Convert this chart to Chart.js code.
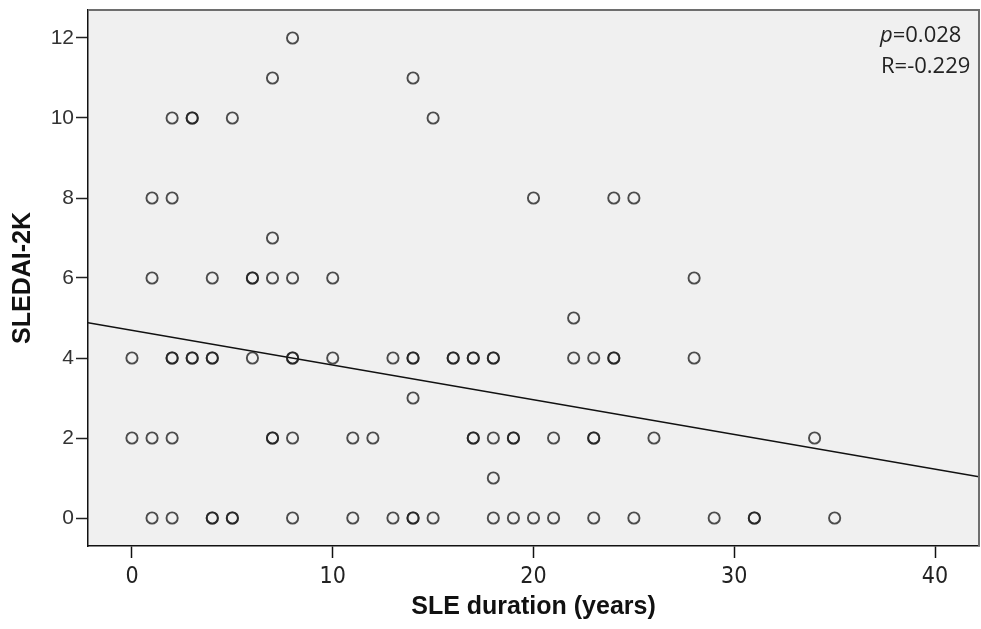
<!DOCTYPE html>
<html>
<head>
<meta charset="utf-8">
<script src="https://cdn.jsdelivr.net/npm/chart.js@4.4.1/dist/chart.umd.min.js"></script>
<style>
  body { margin: 0; background: #fff; }
  canvas { display: block; }
</style>
</head>
<body>
<canvas id="scatter-chart" width="981" height="629"></canvas>
<script>
// SLE duration (years) per patient
const durationYears = [
    8,
    7, 14,
    2, 3, 3, 5, 15,
    1, 2, 20, 24, 25,
    7,
    1, 4, 6, 6, 7, 8, 10, 28,
    22,
    0, 2, 2, 3, 3, 4, 4, 6, 8, 8, 10, 13, 14, 14, 16, 16, 17, 17, 18, 18, 22, 23, 24, 24, 28,
    14,
    0, 1, 2, 7, 7, 8, 11, 12, 17, 17, 18, 19, 19, 21, 23, 23, 26, 34,
    18,
    1, 2, 4, 4, 5, 5, 8, 11, 13, 14, 14, 15, 18, 19, 20, 21, 23, 25, 29, 31, 31, 35
];

// SLEDAI-2K score per patient (same order)
const sledaiScores = [
    12,
    11, 11,
    10, 10, 10, 10, 10,
    8, 8, 8, 8, 8,
    7,
    6, 6, 6, 6, 6, 6, 6, 6,
    5,
    4, 4, 4, 4, 4, 4, 4, 4, 4, 4, 4, 4, 4, 4, 4, 4, 4, 4, 4, 4, 4, 4, 4, 4, 4,
    3,
    2, 2, 2, 2, 2, 2, 2, 2, 2, 2, 2, 2, 2, 2, 2, 2, 2, 2,
    1,
    0, 0, 0, 0, 0, 0, 0, 0, 0, 0, 0, 0, 0, 0, 0, 0, 0, 0, 0, 0, 0, 0
];

// fit line, read at the two ends of the x axis
const fitLineX = [-2.19, 42.19];
const fitLineY = [4.88, 1.03];

const xTicks = [0, 10, 20, 30, 40];
const yTicks = [0, 2, 4, 6, 8, 10, 12];

const statsText = { p: '0.028', r: '-0.229' };

// fond gris de la zone de tracé
const plotBackground = {
    id: 'plotBackground',
    beforeDraw(chart) {
        const { ctx, chartArea: a } = chart;
        ctx.save();
        ctx.fillStyle = '#f0f0f0';
        ctx.fillRect(a.left, a.top, a.right - a.left, a.bottom - a.top);
        ctx.restore();
    }
};

// cadre haut/droite + texte p / R
const plotFrame = {
    id: 'plotFrame',
    afterDraw(chart) {
        const { ctx, chartArea: a } = chart;
        ctx.save();
        ctx.strokeStyle = '#6e6e6e';
        ctx.lineWidth = 2;
        ctx.beginPath();
        ctx.moveTo(a.left, a.top);
        ctx.lineTo(a.right, a.top);
        ctx.lineTo(a.right, a.bottom);
        ctx.stroke();

        ctx.fillStyle = '#222';
        ctx.textBaseline = 'alphabetic';
        ctx.textAlign = 'left';
        const x0 = a.right - 99;
        ctx.font = 'italic 22px "Open Sans"';
        ctx.fillText('p', x0, a.top + 32);
        const pw = ctx.measureText('p').width;
        ctx.font = '22px "Open Sans"';
        ctx.fillText('=' + statsText.p, x0 + pw, a.top + 32);
        ctx.fillText('R=' + statsText.r, x0 + 1, a.top + 63);
        ctx.restore();
    }
};

const points = durationYears.map((d, i) => ({ x: d, y: sledaiScores[i] }));
const fitLine = fitLineX.map((x, i) => ({ x: x, y: fitLineY[i] }));

new Chart(document.getElementById('scatter-chart'), {
    type: 'scatter',
    data: {
        datasets: [{
            label: 'Patients',
            data: points,
            pointRadius: 5.6,
            pointBorderWidth: 1.9,
            pointBackgroundColor: 'rgba(0,0,0,0)',
            pointBorderColor: 'rgba(30,30,30,0.78)'
        }, {
            type: 'line',
            label: 'Fit',
            data: fitLine,
            borderColor: '#111',
            borderWidth: 1.5,
            pointRadius: 0,
            fill: false
        }]
    },
    options: {
        responsive: false,
        animation: false,
        layout: { autoPadding: false, padding: { top: 10, right: 2, left: 0, bottom: 0 } },
        plugins: {
            legend: { display: false },
            tooltip: { enabled: false }
        },
        scales: {
            x: {
                type: 'linear',
                min: fitLineX[0],
                max: fitLineX[1],
                afterBuildTicks: (scale) => { scale.ticks = xTicks.map(v => ({ value: v })); },
                afterFit: (scale) => {
                    scale.height = 83;
                    scale.paddingLeft = 0;
                    scale.paddingRight = 0;
                },
                grid: { drawOnChartArea: false, drawTicks: true, tickLength: 12, color: '#111', tickWidth: 1.5 },
                border: { display: true, color: '#111', width: 1.5 },
                ticks: {
                    padding: 5,
                    color: '#222',
                    font: { family: '"Liberation Sans Narrow", "DejaVu Sans Condensed", "Liberation Sans"', size: 23 }
                },
                title: {
                    display: true,
                    text: 'SLE duration (years)',
                    color: '#111',
                    font: { family: '"Liberation Sans", Arial', size: 25, weight: 'bold' },
                    padding: { top: 0, bottom: 7 }
                }
            },
            y: {
                type: 'linear',
                min: -0.7,
                max: 12.7,
                afterBuildTicks: (scale) => { scale.ticks = yTicks.map(v => ({ value: v })); },
                afterFit: (scale) => {
                    scale.width = 88;
                    scale.paddingTop = 0;
                    scale.paddingBottom = 0;
                },
                grid: { drawOnChartArea: false, drawTicks: true, tickLength: 12, color: '#222', tickWidth: 1.5 },
                border: { display: true, color: '#111', width: 1.5 },
                ticks: {
                    padding: 2,
                    color: '#333',
                    font: { family: '"Liberation Sans", Arial', size: 21 }
                },
                title: {
                    display: true,
                    text: 'SLEDAI-2K',
                    color: '#111',
                    font: { family: '"Liberation Sans", Arial', size: 25, weight: 'bold' },
                    padding: { top: 8, bottom: 0 }
                }
            }
        }
    },
    plugins: [plotBackground, plotFrame]
});
</script>
</body>
</html>
